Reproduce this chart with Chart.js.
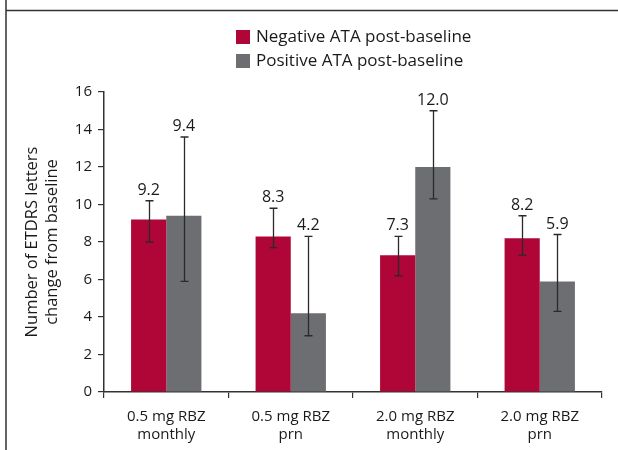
<!DOCTYPE html>
<html>
<head>
<meta charset="utf-8">
<script src="https://cdn.jsdelivr.net/npm/chart.js@4.4.1/dist/chart.umd.min.js"></script>
<style>
  html, body { margin:0; padding:0; background:#fff; }
  #wrap { width:618px; height:450px; position:relative; }
</style>
</head>
<body>
<div id="wrap"><canvas id="ataChart" width="618" height="450"></canvas></div>
<script>
/* data */
const categories = [['0.5 mg RBZ','monthly'], ['0.5 mg RBZ','prn'], ['2.0 mg RBZ','monthly'], ['2.0 mg RBZ','prn']];
const seriesNames = ['Negative ATA post-baseline', 'Positive ATA post-baseline'];
const negative = [9.2, 8.3, 7.3, 8.2];
const positive = [9.4, 4.2, 12.0, 5.9];
const negLow  = [8.0, 7.7, 6.2, 7.3];
const negHigh = [10.2, 9.8, 8.3, 9.4];
const posLow  = [5.9, 3.0, 10.3, 4.3];
const posHigh = [13.6, 8.3, 15.0, 8.4];
const yTicks = [0, 2, 4, 6, 8, 10, 12, 14, 16];

const RED = '#b00537';
const GREY = '#6d6e71';
const FONT = '"Open Sans", "Noto Sans", sans-serif';

// box + legend in the top area
const framePlugin = {
  id: 'frame',
  afterDraw(chart) {
    const c = chart.ctx;
    c.save();
    c.strokeStyle = '#333';
    c.lineWidth = 1.5;
    c.beginPath();
    c.moveTo(6, 0); c.lineTo(6, 450);
    c.moveTo(6, 10.5); c.lineTo(618, 10.5);
    c.stroke();

    // legend, left aligned rows
    c.font = '17px ' + FONT;
    c.textBaseline = 'middle';
    c.textAlign = 'left';
    chart.data.datasets.forEach((ds, i) => {
      const y = 30 + i * 24;
      c.fillStyle = ds.backgroundColor;
      c.fillRect(236, y, 14, 14);
      c.fillStyle = '#1a1a1a';
      c.fillText(ds.label, 256, y + 7.5);
    });
    c.restore();
  }
};

// error bars and value labels
const errorPlugin = {
  id: 'errbars',
  afterDatasetsDraw(chart) {
    const c = chart.ctx;
    const ys = chart.scales.y;
    const lows = [negLow, posLow], highs = [negHigh, posHigh];
    c.save();
    chart.data.datasets.forEach((ds, di) => {
      const meta = chart.getDatasetMeta(di);
      meta.data.forEach((bar, i) => {
        const x = Math.round(bar.x) + 0.5;
        const yl = ys.getPixelForValue(lows[di][i]);
        const yh = ys.getPixelForValue(highs[di][i]);
        c.strokeStyle = '#2a2a2a';
        c.lineWidth = 1.3;
        c.beginPath();
        c.moveTo(x, yl); c.lineTo(x, yh);
        c.moveTo(x - 4, yl); c.lineTo(x + 4, yl);
        c.moveTo(x - 4, yh); c.lineTo(x + 4, yh);
        c.stroke();
        c.fillStyle = '#1a1a1a';
        c.font = '16px ' + FONT;
        c.textAlign = 'center';
        c.textBaseline = 'alphabetic';
        c.fillText(ds.data[i].toFixed(1), bar.x, yh - 6);
      });
    });
    c.restore();
  }
};

new Chart(document.getElementById('ataChart'), {
  type: 'bar',
  data: {
    labels: categories,
    datasets: [
      { label: seriesNames[0], data: negative, backgroundColor: RED },
      { label: seriesNames[1], data: positive, backgroundColor: GREY }
    ]
  },
  options: {
    responsive: false,
    animation: false,
    events: [],
    layout: { padding: { top: 92, right: 16, left: 23, bottom: 0 } },
    datasets: { bar: { categoryPercentage: 0.565, barPercentage: 1 } },
    plugins: { legend: { display: false }, tooltip: { enabled: false } },
    scales: {
      x: {
        offset: true,
        grid: { display: true, offset: true, drawOnChartArea: false, tickLength: 6, color: '#333', lineWidth: 1.2 },
        border: { color: '#333', width: 1.5 },
        ticks: { color: '#1a1a1a', font: { family: FONT, size: 15, lineHeight: 1.17 }, padding: 10, maxRotation: 0 },
        afterFit(s) { s.height = 58; }
      },
      y: {
        min: 0, max: 16,
        afterBuildTicks(s) { s.ticks = yTicks.map(v => ({ value: v })); },
        grid: { drawOnChartArea: false, tickLength: 6, color: '#333', lineWidth: 1.2 },
        border: { color: '#333', width: 1.5 },
        ticks: { color: '#1a1a1a', font: { family: FONT, size: 15 }, padding: 6 },
        title: {
          display: true,
          text: ['Number of ETDRS letters', 'change from baseline'],
          color: '#1a1a1a',
          font: { family: FONT, size: 16.5, lineHeight: 1.17 },
          padding: 0
        },
        afterFit(s) { s.width = 81; }
      }
    }
  },
  plugins: [framePlugin, errorPlugin]
});
</script>
</body>
</html>
